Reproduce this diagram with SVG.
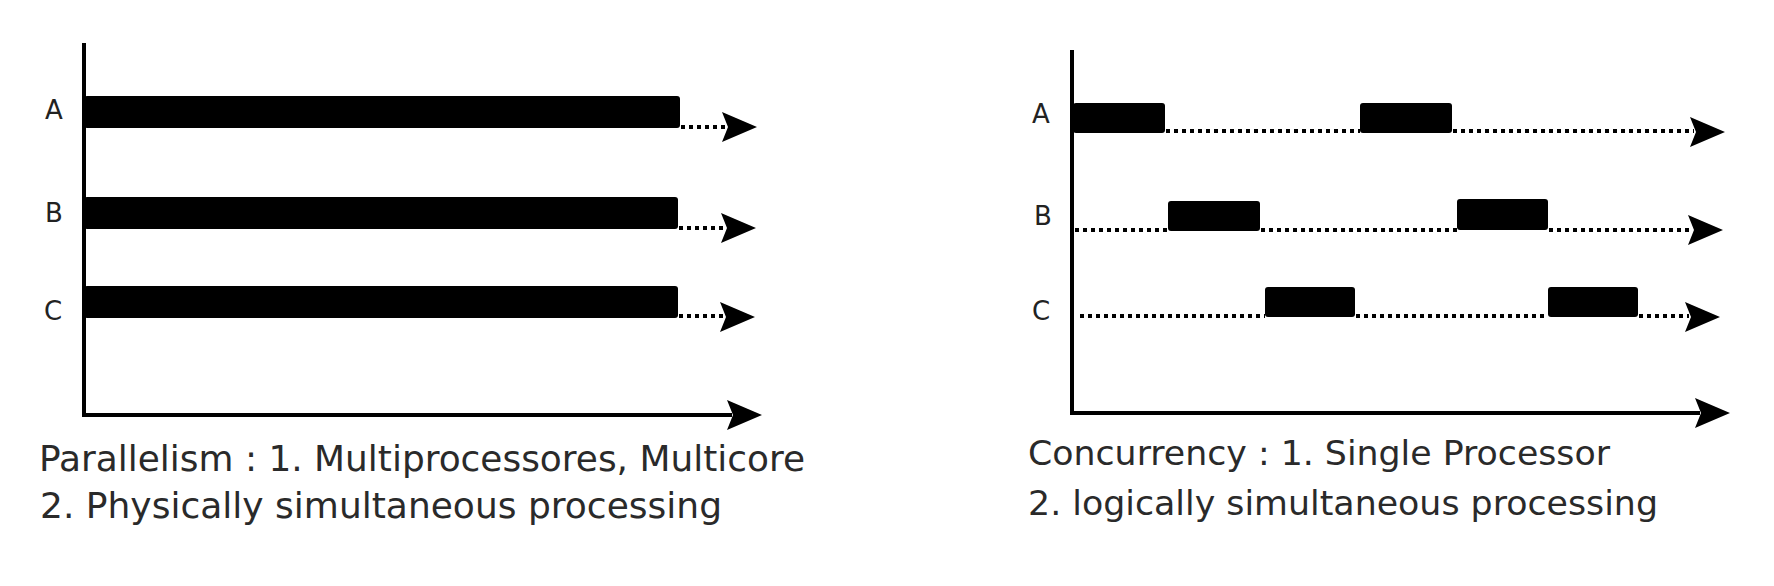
<svg xmlns="http://www.w3.org/2000/svg" xmlns:xlink="http://www.w3.org/1999/xlink" width="1774" height="586" viewBox="0 0 1774 586">
  <style>
    .axis { stroke: #000; stroke-width: 4; fill: none; }
    .dot { stroke: #000; stroke-width: 4; stroke-dasharray: 4 4; fill: none; }
    .bar { fill: #000; }
    .lbl { font-family: "DejaVu Sans", "Liberation Sans", sans-serif; font-size: 26px; fill: #222; }
    .cap { font-family: "DejaVu Sans", "Liberation Sans", sans-serif; fill: #2a2a2a; }
  </style>
  <defs>
    <path id="ah" d="M0,0 L-35,-15 L-29,0 L-35,15 Z" fill="#000"/>
  </defs>
  <rect width="1774" height="586" fill="#fff"/>

  <g id="parallelism">
    <g id="p-axes">
      <line class="axis" x1="84" y1="43" x2="84" y2="417"/>
      <line class="axis" x1="82" y1="415" x2="732" y2="415"/>
      <use xlink:href="#ah" transform="translate(762,415)"/>
    </g>
    <g id="p-A">
      <text class="lbl" x="45" y="119">A</text>
      <rect class="bar" x="84" y="96" width="596" height="32" rx="3"/>
    </g>
    <g id="p-B">
      <text class="lbl" x="45" y="222">B</text>
      <rect class="bar" x="84" y="197" width="594" height="32" rx="3"/>
    </g>
    <g id="p-C">
      <text class="lbl" x="44" y="320">C</text>
      <rect class="bar" x="84" y="286" width="594" height="32" rx="3"/>
    </g>
    <g id="p-caption">
      <text class="cap" x="39" y="471" font-size="36" textLength="766" lengthAdjust="spacingAndGlyphs">Parallelism : 1. Multiprocessores, Multicore</text>
      <text class="cap" x="40" y="518" font-size="36" textLength="682" lengthAdjust="spacingAndGlyphs">2. Physically simultaneous processing</text>
    </g>
  </g>

  <g id="concurrency">
    <g id="c-axes">
      <line class="axis" x1="1072" y1="50" x2="1072" y2="415"/>
      <line class="axis" x1="1070" y1="413" x2="1700" y2="413"/>
      <use xlink:href="#ah" transform="translate(1730,413)"/>
    </g>
    <g id="c-A">
      <text class="lbl" x="1032" y="123">A</text>
      <rect class="bar" x="1073" y="103" width="92" height="30" rx="3"/>
      <rect class="bar" x="1360" y="103" width="92" height="30" rx="3"/>
    </g>
    <g id="c-B">
      <text class="lbl" x="1034" y="225">B</text>
      <rect class="bar" x="1168" y="201" width="92" height="30" rx="3"/>
      <rect class="bar" x="1457" y="199" width="91" height="31" rx="3"/>
    </g>
    <g id="c-C">
      <text class="lbl" x="1032" y="320">C</text>
      <rect class="bar" x="1265" y="287" width="90" height="30" rx="3"/>
      <rect class="bar" x="1548" y="287" width="90" height="30" rx="3"/>
    </g>
    <g id="c-caption">
      <text class="cap" x="1028" y="465" font-size="34.5" textLength="582" lengthAdjust="spacingAndGlyphs">Concurrency : 1. Single Processor</text>
      <text class="cap" x="1028" y="515" font-size="34.5" textLength="630" lengthAdjust="spacingAndGlyphs">2. logically simultaneous processing</text>
    </g>
  </g>

  <g id="connectors">
    <line class="dot" x1="681" y1="127" x2="726" y2="127"/>
    <use xlink:href="#ah" transform="translate(757,127)"/>
    <line class="dot" x1="679" y1="228" x2="725" y2="228"/>
    <use xlink:href="#ah" transform="translate(756,228)"/>
    <line class="dot" x1="679" y1="316" x2="724" y2="316"/>
    <use xlink:href="#ah" transform="translate(755,317)"/>

    <line class="dot" x1="1166" y1="131" x2="1360" y2="131"/>
    <line class="dot" x1="1453" y1="131" x2="1694" y2="131"/>
    <use xlink:href="#ah" transform="translate(1725,132)"/>
    <line class="dot" x1="1075" y1="230" x2="1168" y2="230"/>
    <line class="dot" x1="1261" y1="230" x2="1457" y2="230"/>
    <line class="dot" x1="1549" y1="230" x2="1692" y2="230"/>
    <use xlink:href="#ah" transform="translate(1723,230)"/>
    <line class="dot" x1="1080" y1="316" x2="1265" y2="316"/>
    <line class="dot" x1="1356" y1="316" x2="1548" y2="316"/>
    <line class="dot" x1="1639" y1="316" x2="1689" y2="316"/>
    <use xlink:href="#ah" transform="translate(1720,317)"/>
  </g>
</svg>
